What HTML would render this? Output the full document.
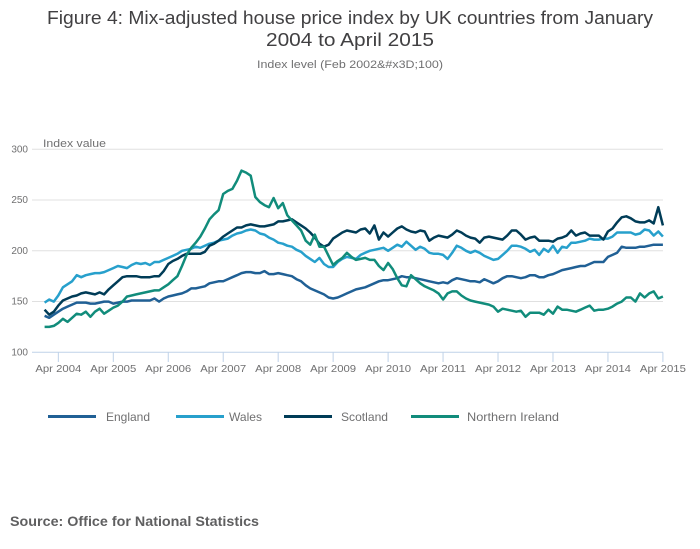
<!DOCTYPE html>
<html><head><meta charset="utf-8"><style>
html,body{margin:0;padding:0;background:#fff;}
svg{display:block;font-family:"Liberation Sans",sans-serif;}
</style></head><body>
<svg id="chart" width="700" height="549" viewBox="0 0 700 549">
<text x="350" y="24" text-anchor="middle" font-size="18" fill="#414042" textLength="606" lengthAdjust="spacingAndGlyphs">Figure 4: Mix-adjusted house price index by UK countries from January</text>
<text x="350" y="46" text-anchor="middle" font-size="18" fill="#414042" textLength="168" lengthAdjust="spacingAndGlyphs">2004 to April 2015</text>
<text x="350" y="68" text-anchor="middle" font-size="11" fill="#707071" textLength="186" lengthAdjust="spacingAndGlyphs">Index level (Feb 2002&amp;#x3D;100)</text>
<text x="43" y="147" font-size="11" fill="#707071" textLength="63" lengthAdjust="spacingAndGlyphs">Index value</text>
<g id="grid"></g><g id="xaxis"></g><g id="lines"></g>
<g id="legend"></g>
<text x="10" y="526" font-size="14" font-weight="bold" fill="#5f5f60" textLength="249" lengthAdjust="spacingAndGlyphs">Source: Office for National Statistics</text>
</svg>
<script>
const seriesNames=["England","Wales","Scotland","Northern Ireland"];
const seriesColors=["#206095","#27a0cc","#003c57","#118c7b"];
const yTicks=[100,150,200,250,300];
const xTickLabels=["Apr 2004","Apr 2005","Apr 2006","Apr 2007","Apr 2008","Apr 2009","Apr 2010","Apr 2011","Apr 2012","Apr 2013","Apr 2014","Apr 2015"];
const england=[136,134,137,140,143,145,147,149,149,149,148,148,
149,150,150,148,149,150,150,151,151,151,151,151,
153,150,153,155,156,157,158,160,163,163,164,165,
168,169,170,170,172,174,176,178,179,179,178,178,
180,177,177,178,177,176,175,172,170,166,163,161,
159,157,154,153,154,156,158,160,162,163,164,166,
168,170,171,171,172,173,175,174,174,173,172,171,
170,169,168,169,168,171,173,172,171,170,170,169,
172,170,168,170,173,175,175,174,173,174,176,176,
174,174,176,177,179,181,182,183,184,185,185,187,
189,189,189,194,196,198,204,203,203,203,204,204,
205,206,206,206];
const wales=[149,152,150,156,164,167,170,176,174,176,177,178,
178,179,181,183,185,184,183,186,188,187,188,186,
189,189,191,193,195,197,200,201,202,204,203,205,
207,208,210,211,212,215,217,218,220,221,220,217,
216,213,211,208,207,205,204,201,199,195,192,189,
193,187,184,184,189,192,194,193,192,196,198,200,
201,202,203,200,203,206,204,209,205,201,204,202,
198,197,197,196,192,198,205,203,200,198,200,198,
195,193,191,192,196,200,205,205,204,202,199,201,
196,202,199,205,198,204,203,208,208,209,210,212,
211,211,212,212,214,218,218,218,218,216,217,221,
220,215,219,214];
const scotland=[142,137,140,146,151,153,155,156,158,159,158,157,
159,157,162,166,170,174,175,175,175,174,174,174,
175,175,180,187,190,192,195,197,197,197,197,199,
205,207,210,214,217,220,223,223,225,226,225,224,
224,225,226,229,229,230,231,228,225,222,218,213,
207,204,206,212,215,218,220,219,218,221,222,217,
225,211,218,214,218,222,224,221,219,218,220,219,
210,213,215,214,213,216,220,218,215,213,212,208,
213,214,213,212,211,215,220,220,216,211,213,214,
210,210,210,209,212,213,215,220,215,217,218,215,
215,215,211,219,222,228,233,234,232,229,228,228,
230,227,243,225];
const nireland=[125,125,126,129,133,130,134,138,137,140,135,140,
143,138,141,144,146,150,155,156,157,158,159,160,
161,161,164,167,171,175,185,196,203,208,214,222,
231,236,240,256,259,261,269,279,277,274,253,248,
245,243,252,242,247,235,230,225,220,210,206,216,
204,204,195,186,190,193,198,194,191,192,193,191,
191,185,181,188,182,173,166,165,176,172,168,165,
163,161,158,152,158,160,160,156,153,151,150,149,
148,147,145,140,143,142,141,140,141,135,139,139,
139,137,142,138,145,142,142,141,140,142,144,146,
141,142,142,143,145,148,150,154,154,150,158,154,
158,160,153,155];
const allSeries=[england,wales,scotland,nireland];
const NS="http://www.w3.org/2000/svg";
function xScale(m){return 44.6+m*4.58;}
function yScale(v){return 352.3-(v-100)*1.015;}
function mk(tag,attrs,parent){const e=document.createElementNS(NS,tag);for(const k in attrs)e.setAttribute(k,attrs[k]);parent.appendChild(e);return e;}
const grid=document.getElementById('grid');
yTicks.forEach(t=>{
  if(t>100){const l=mk('line',{x1:32,x2:663,y1:yScale(t),y2:yScale(t),stroke:'#e0e0e0','stroke-width':1},grid);
  
  }
  const tx=mk('text',{x:28,y:yScale(t)+3,'text-anchor':'end','font-size':10,fill:'#707071'},grid);
  tx.textContent=t;
  
  
});
const xa=document.getElementById('xaxis');
const ax=mk('line',{x1:32,x2:663,y1:352.3,y2:352.3,stroke:'#bfd2e8','stroke-width':1},xa);


xTickLabels.forEach((lab,i)=>{
  const m=3+i*12;const x=xScale(m);
  const tk=mk('line',{x1:x,x2:x,y1:352.3,y2:362,stroke:'#bfd2e8','stroke-width':1},xa);
  
  
  const tx=mk('text',{x:x,y:372,'text-anchor':'middle','font-size':10.5,fill:'#707071',textLength:46,lengthAdjust:'spacingAndGlyphs'},xa);
  tx.textContent=lab;
  
  
});
const lg=document.getElementById('lines');
allSeries.forEach((s,i)=>{
  const d=s.map((v,m)=>(m?'L':'M')+xScale(m).toFixed(1)+' '+yScale(v).toFixed(1)).join(' ');
  const p=mk('path',{d:d,fill:'none',stroke:seriesColors[i],'stroke-width':2.5,'stroke-linejoin':'round'},lg);
  
  
});
const leg=document.getElementById('legend');
let lx=[48,176,284,411];let tx2=[106,229,341,467];let tw=[44,33,47,92];
seriesNames.forEach((n,i)=>{
  const g=mk('g',{},leg);
  
  
  mk('line',{x1:lx[i],x2:lx[i]+48,y1:416.5,y2:416.5,stroke:seriesColors[i],'stroke-width':3},g);
  const t=mk('text',{x:tx2[i],y:421,'font-size':12,fill:'#707071',textLength:tw[i],lengthAdjust:'spacingAndGlyphs'},g);
  t.textContent=n;
});
</script>
</body></html>
